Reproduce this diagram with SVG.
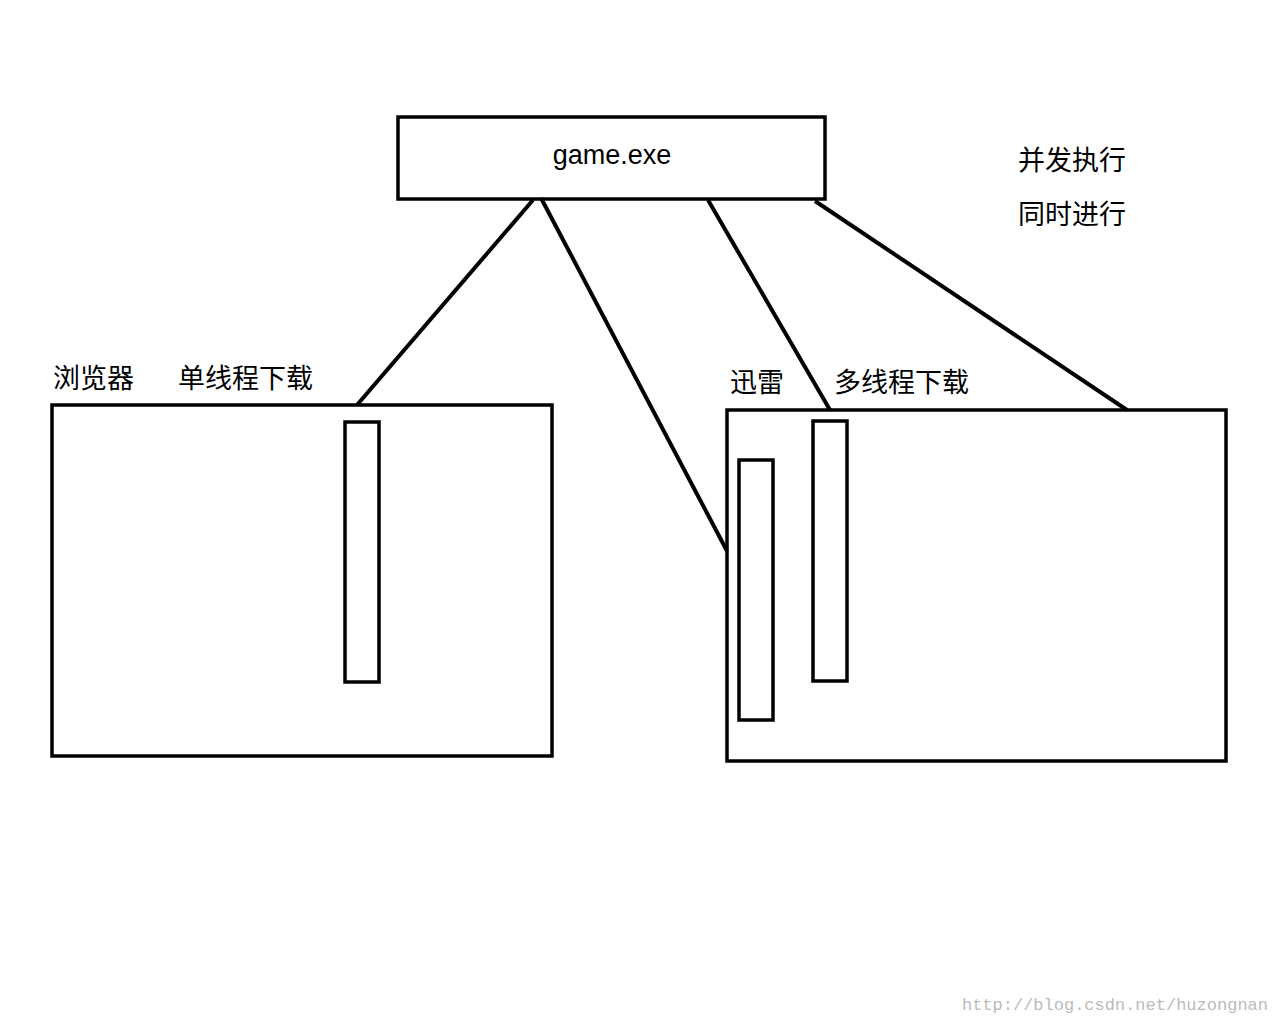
<svg xmlns="http://www.w3.org/2000/svg" width="1280" height="1024" viewBox="0 0 1280 1024">
<style>
.b{fill:none;stroke:#000;stroke-width:3.5}
.t{font-family:"Noto Sans CJK SC","Liberation Sans",sans-serif;font-size:27px;fill:#000}
.c line{stroke:#000;stroke-width:4}
</style>
<rect width="1280" height="1024" fill="#fff"/>
<g id="game"><rect class="b" x="398" y="117" width="427" height="82"/><text class="t" x="612" y="164" text-anchor="middle" style="font-family:'Liberation Sans',sans-serif">game.exe</text></g>
<g id="note"><text class="t" x="1018" y="170">并发执行</text><text class="t" x="1018" y="224">同时进行</text></g>
<g id="browser"><rect class="b" x="52" y="405" width="500" height="351"/><rect class="b" x="345" y="422" width="34" height="260"/><text class="t" x="53" y="388">浏览器</text><text class="t" x="178" y="388">单线程下载</text></g>
<g id="xunlei"><rect class="b" x="727" y="410" width="499" height="351"/><rect class="b" x="739" y="460" width="34" height="260"/><rect class="b" x="813" y="421" width="34" height="260"/><text class="t" x="730" y="392">迅雷</text><text class="t" x="834" y="392">多线程下载</text></g>
<g class="c" id="connectors">
<line x1="533" y1="200" x2="357" y2="405"/>
<line x1="541" y1="198" x2="727" y2="551"/>
<line x1="708" y1="200" x2="830" y2="410"/>
<line x1="815" y1="201" x2="1127" y2="410"/>
</g>
<text x="1268" y="1010" text-anchor="end" style="font-family:'Liberation Mono',monospace;font-size:17px;fill:#bbb">http://blog.csdn.net/huzongnan</text>
</svg>
